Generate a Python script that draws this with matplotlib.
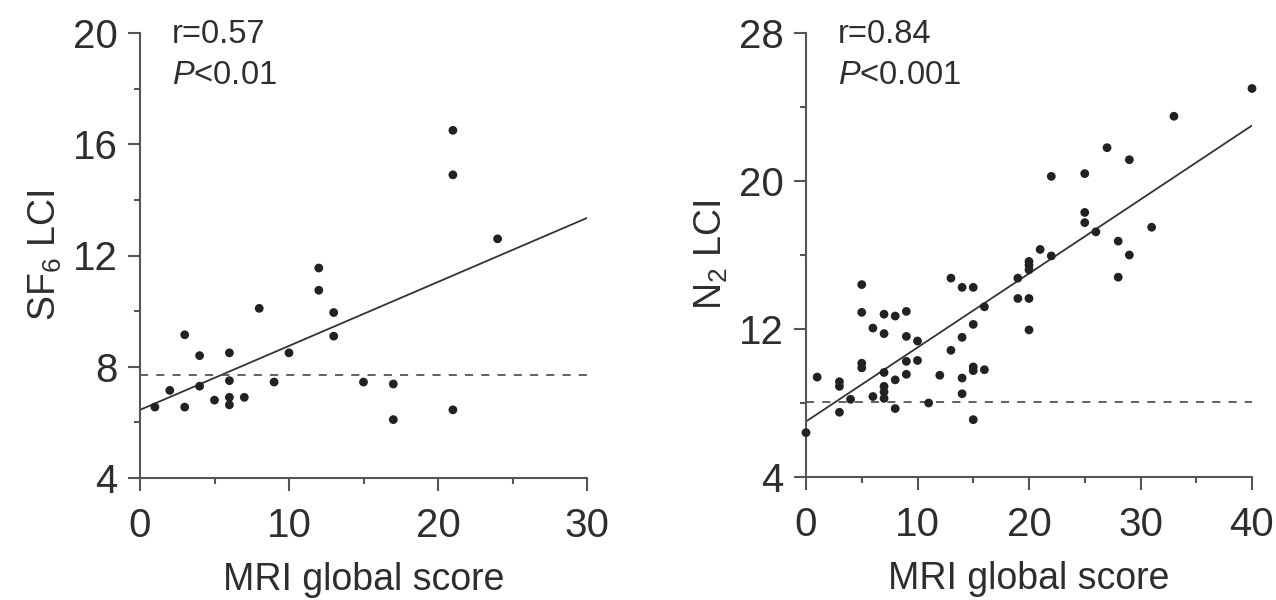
import numpy as np
import matplotlib
matplotlib.use("Agg")
import matplotlib.pyplot as plt
from matplotlib.ticker import FixedLocator

plt.rcParams['font.family'] = ['Liberation Sans', 'DejaVu Sans']
plt.rcParams['mathtext.fontset'] = 'custom'
plt.rcParams['mathtext.rm'] = 'Liberation Sans'
plt.rcParams['mathtext.it'] = 'Liberation Sans:italic'

# ---- Left panel: SF6 LCI vs MRI global score ----
sf6_score = [1, 2, 3, 3, 4, 4, 5, 6, 6, 6, 6, 7, 8, 9, 10,
             12, 12, 13, 13, 15, 17, 17, 21, 21, 21, 24]
sf6_lci = [6.55, 7.15, 9.15, 6.55, 8.4, 7.3, 6.8, 8.5, 7.5, 6.9, 6.63, 6.9, 10.1, 7.45, 8.5,
           11.55, 10.75, 9.95, 9.1, 7.45, 7.38, 6.1, 16.5, 14.9, 6.45, 12.6]
sf6_fit = [6.45, 0.23]          # intercept, slope
sf6_uln = 7.7                    # dashed reference line
sf6_stats = ["r=0.57", "<0.01"]
sf6_xticks = [0, 10, 20, 30]
sf6_xminor = [5, 15, 25]
sf6_yticks = [4, 8, 12, 16, 20]
sf6_yminor = [6, 10, 14, 18]

# ---- Right panel: N2 LCI vs MRI global score ----
n2_score = [0, 1, 3, 3, 3, 4, 5, 5, 5, 5, 6, 6, 7, 7, 7, 7, 7, 7,
            8, 8, 8, 9, 9, 9, 9, 10, 10, 11, 12, 13, 13,
            14, 14, 14, 14, 15, 15, 15, 15, 15, 16, 16,
            19, 19, 20, 20, 20, 20, 20, 21, 22, 22,
            25, 25, 25, 26, 27, 28, 28, 29, 29, 31, 33, 40]
n2_lci = [6.4, 9.4, 9.15, 8.9, 7.5, 8.2, 14.4, 12.9, 10.15, 9.9, 12.05, 8.35,
          12.8, 11.75, 9.65, 8.9, 8.6, 8.25,
          12.7, 9.25, 7.7, 12.95, 11.6, 10.25, 9.55, 11.35, 10.3, 8.0, 9.5, 14.75, 10.85,
          14.25, 11.55, 9.35, 8.5, 14.25, 12.25, 9.95, 9.75, 7.1, 13.2, 9.8,
          14.75, 13.65, 15.65, 15.45, 15.2, 13.65, 11.95, 16.3, 20.25, 15.95,
          20.4, 18.3, 17.75, 17.25, 21.8, 16.75, 14.8, 21.15, 16.0, 17.5, 23.5, 25.0]
n2_fit = [7.0, 0.4]
n2_uln = 8.05
n2_stats = ["r=0.84", "<0.001"]
n2_xticks = [0, 10, 20, 30, 40]
n2_xminor = [5, 15, 25, 35]
n2_yticks = [4, 12, 20, 28]
n2_yminor = [8, 16, 24]

W, H = 1276, 600
fig = plt.figure(figsize=(W / 100, H / 100), dpi=100)

spine_c = '#555555'
dot_c = '#222222'
txt_c = '#2e2e2e'


def panel(rect, xs, ys, fit, uln, stats, xt, xm, yt, ym, ylabel, ylabx):
    ax = fig.add_axes(rect)
    ax.set_xlim(xt[0], xt[-1])
    ax.set_ylim(yt[0], yt[-1])
    for s in ('top', 'right'):
        ax.spines[s].set_visible(False)
    for s in ('left', 'bottom'):
        ax.spines[s].set_color(spine_c)
        ax.spines[s].set_linewidth(1.5)
    ax.xaxis.set_major_locator(FixedLocator(xt))
    ax.xaxis.set_minor_locator(FixedLocator(xm))
    ax.yaxis.set_major_locator(FixedLocator(yt))
    ax.yaxis.set_minor_locator(FixedLocator(ym))
    ax.tick_params(which='major', direction='out', length=9, width=1.5, color=spine_c,
                   labelsize=29, labelcolor=txt_c, pad=7)
    ax.tick_params(which='minor', direction='out', length=4.5, width=1.5, color=spine_c)
    ax.tick_params(axis='x', which='major', pad=12)

    ax.scatter(xs, ys, s=40, color=dot_c, edgecolors='none', zorder=3, clip_on=False)
    xx = np.array([xt[0], xt[-1]])
    ax.plot(xx, fit[0] + fit[1] * xx, color='#333333', lw=1.3, zorder=2)
    ax.plot(xx, [uln, uln], color='#555555', lw=1.3, dashes=(4.5, 4.5), zorder=2)

    ax.text(0.072, 0.977, stats[0], transform=ax.transAxes, fontsize=23.5,
            color=txt_c, va='baseline', ha='left')
    ax.text(0.072, 0.885, r'$\mathit{P}$' + stats[1], transform=ax.transAxes, fontsize=23.5,
            color=txt_c, va='baseline', ha='left')

    ax.set_xlabel('MRI global score', fontsize=27, color=txt_c, labelpad=12)
    ax.set_ylabel(ylabel, fontsize=27, color=txt_c)
    ax.yaxis.set_label_coords(ylabx, 0.5)
    return ax


panel([140 / W, 1 - 478 / H, 447 / W, 445 / H], sf6_score, sf6_lci, sf6_fit, sf6_uln,
      sf6_stats, sf6_xticks, sf6_xminor, sf6_yticks, sf6_yminor, r'SF$_6$ LCI', -0.17)
panel([806 / W, 1 - 477 / H, 446 / W, 444 / H], n2_score, n2_lci, n2_fit, n2_uln,
      n2_stats, n2_xticks, n2_xminor, n2_yticks, n2_yminor, r'N$_2$ LCI', -0.17)

fig.savefig('out.png', dpi=100)
